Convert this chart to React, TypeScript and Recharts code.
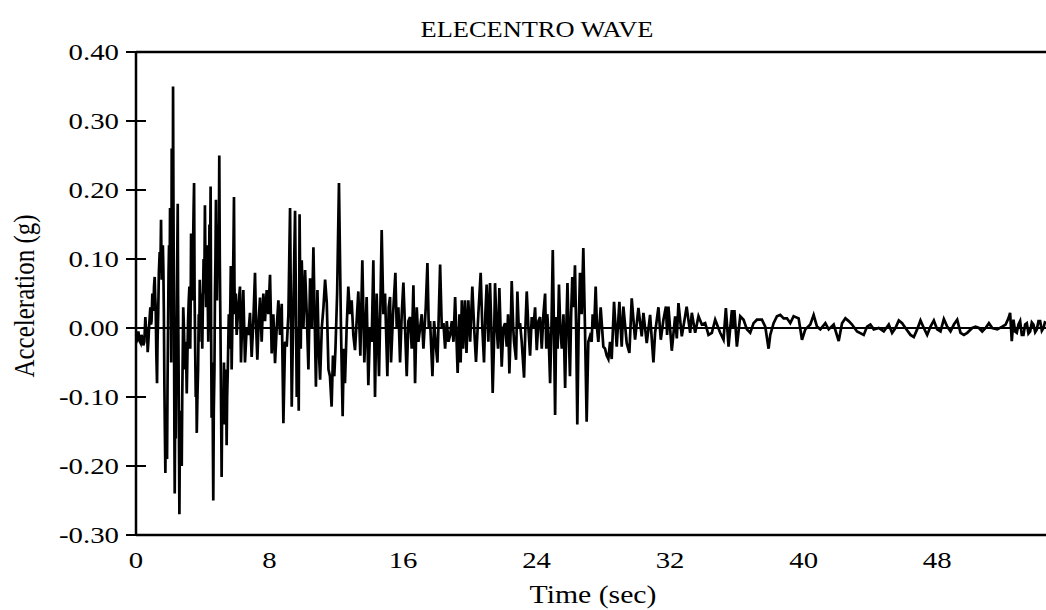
import React from 'react';
import { LineChart, Line, XAxis, YAxis, ReferenceLine } from 'recharts';

// Time (sec) / acceleration (g) pairs, split by segment
const motion0to6: [number, number][] = [
  [0.0, -0.01], [0.08, -0.015], [0.14, -0.005], [0.18, -0.012], [0.24, -0.02], [0.28, -0.022],
  [0.33, -0.01], [0.38, -0.015], [0.44, -0.025], [0.5, -0.02], [0.56, 0.016], [0.62, -0.01],
  [0.66, 0.0], [0.7, -0.035], [0.74, -0.02], [0.78, 0.0], [0.82, 0.015], [0.86, 0.03],
  [0.9, 0.005], [0.93, 0.01], [0.98, 0.05], [1.01, 0.03], [1.04, 0.025], [1.08, 0.06],
  [1.12, 0.074], [1.15, 0.045], [1.18, 0.03], [1.22, -0.04], [1.26, -0.08], [1.29, -0.02],
  [1.33, 0.02], [1.37, 0.08], [1.42, 0.11], [1.46, 0.08], [1.5, 0.157], [1.54, 0.07],
  [1.58, 0.09], [1.61, 0.12], [1.64, 0.084], [1.67, 0.02], [1.7, -0.08], [1.73, -0.15],
  [1.76, -0.21], [1.79, -0.12], [1.82, -0.17], [1.86, -0.19], [1.89, -0.08], [1.92, 0.0],
  [1.95, 0.08], [1.98, 0.12], [2.01, 0.05], [2.04, 0.174], [2.07, 0.1], [2.09, 0.06],
  [2.11, -0.05], [2.14, 0.26], [2.16, 0.1], [2.18, 0.15], [2.2, 0.08], [2.22, 0.35],
  [2.24, 0.2], [2.27, 0.05], [2.3, -0.15], [2.32, -0.24], [2.35, -0.1], [2.38, -0.16],
  [2.41, -0.05], [2.44, 0.02], [2.47, 0.1], [2.5, 0.18], [2.52, 0.05], [2.55, -0.05],
  [2.58, -0.18], [2.6, -0.27], [2.63, -0.15], [2.66, -0.12], [2.7, -0.18], [2.74, -0.2],
  [2.77, -0.1], [2.8, -0.04], [2.83, 0.03], [2.86, 0.01], [2.9, -0.03], [2.94, -0.06],
  [2.99, -0.02], [3.04, -0.095], [3.08, -0.04], [3.12, 0.01], [3.16, 0.04], [3.2, 0.06],
  [3.22, 0.01], [3.25, -0.03], [3.28, 0.05], [3.3, 0.137], [3.34, 0.08], [3.38, 0.04],
  [3.42, 0.12], [3.45, 0.17], [3.48, 0.21], [3.51, 0.05], [3.55, -0.04], [3.58, -0.1],
  [3.61, -0.06], [3.64, -0.152], [3.68, -0.1], [3.72, -0.06], [3.76, 0.02], [3.79, -0.02],
  [3.82, 0.07], [3.86, 0.03], [3.9, 0.01], [3.94, 0.05], [3.97, -0.03], [4.01, 0.04],
  [4.05, 0.1], [4.09, 0.05], [4.13, 0.178], [4.16, 0.09], [4.2, 0.03], [4.23, 0.08],
  [4.27, 0.12], [4.3, 0.04], [4.33, -0.02], [4.37, 0.06], [4.4, 0.15], [4.44, 0.1],
  [4.47, 0.205], [4.5, 0.0], [4.53, -0.13], [4.56, -0.08], [4.58, -0.05], [4.61, -0.18],
  [4.63, -0.25], [4.66, -0.12], [4.7, -0.06], [4.73, 0.05], [4.76, 0.1], [4.79, 0.186],
  [4.82, 0.08], [4.85, 0.04], [4.88, 0.1], [4.92, 0.15], [4.95, 0.08], [4.99, 0.25],
  [5.02, 0.1], [5.06, 0.0], [5.1, -0.12], [5.13, -0.216], [5.16, -0.12], [5.2, -0.09],
  [5.23, -0.14], [5.27, -0.05], [5.3, -0.1], [5.33, -0.14], [5.36, -0.06], [5.38, -0.08],
  [5.41, -0.12], [5.43, -0.17], [5.46, -0.1], [5.5, -0.06], [5.53, -0.02], [5.56, 0.02],
  [5.6, -0.03], [5.63, 0.0], [5.66, 0.05], [5.68, 0.09], [5.71, 0.0], [5.73, -0.06],
  [5.77, 0.0], [5.8, 0.05], [5.84, 0.12], [5.87, 0.19], [5.9, 0.06], [5.93, 0.02],
  [5.98, 0.05],
];

const motion6to12: [number, number][] = [
  [6.03, -0.01], [6.13, 0.03], [6.23, 0.06], [6.29, -0.05], [6.36, 0.01], [6.43, 0.055],
  [6.53, -0.05], [6.63, 0.0], [6.73, -0.01], [6.83, 0.022], [6.93, -0.042], [7.03, 0.01],
  [7.13, 0.08], [7.2, 0.0], [7.27, -0.046], [7.35, 0.01], [7.43, 0.044], [7.53, -0.02],
  [7.63, 0.05], [7.73, 0.01], [7.83, 0.055], [7.93, 0.02], [8.03, 0.077], [8.13, -0.037],
  [8.23, 0.02], [8.33, -0.051], [8.43, 0.0], [8.53, 0.04], [8.63, -0.01], [8.73, 0.035],
  [8.83, -0.138], [8.93, -0.02], [9.03, -0.027], [9.13, 0.02], [9.23, 0.174], [9.33, -0.114],
  [9.43, 0.03], [9.53, 0.17], [9.63, -0.1], [9.7, 0.0], [9.75, -0.12], [9.8, 0.165],
  [9.87, -0.03], [9.93, 0.098], [10.03, 0.0], [10.13, 0.084], [10.23, 0.02], [10.33, -0.06],
  [10.43, 0.072], [10.53, 0.0], [10.63, 0.117], [10.7, 0.02], [10.78, -0.085], [10.87, 0.055],
  [10.95, -0.03], [11.03, -0.075], [11.13, 0.0], [11.23, 0.03], [11.33, 0.07], [11.43, 0.036],
  [11.53, -0.06], [11.62, -0.07], [11.72, -0.114], [11.8, -0.04], [11.88, -0.07], [11.95, -0.03],
];

const motion12to19: [number, number][] = [
  [12.05, 0.05], [12.16, 0.21], [12.28, 0.0], [12.38, -0.128], [12.45, -0.03], [12.52, -0.08],
  [12.62, 0.0], [12.72, 0.06], [12.82, 0.02], [12.92, 0.04], [13.02, -0.01], [13.12, -0.032],
  [13.22, 0.01], [13.32, 0.053], [13.44, -0.04], [13.56, 0.098], [13.68, -0.05], [13.82, 0.045],
  [13.92, -0.083], [14.02, 0.0], [14.12, -0.02], [14.22, 0.098], [14.32, -0.1], [14.42, 0.05],
  [14.56, -0.07], [14.64, 0.03], [14.72, 0.142], [14.82, 0.02], [14.92, 0.05], [15.06, -0.07],
  [15.14, 0.03], [15.22, 0.045], [15.28, -0.05], [15.4, 0.02], [15.54, 0.08], [15.62, 0.0],
  [15.72, 0.03], [15.82, -0.05], [15.92, 0.02], [16.02, 0.066], [16.12, 0.0], [16.22, -0.07],
  [16.32, 0.01], [16.42, 0.016], [16.52, -0.03], [16.62, 0.062], [16.72, -0.08], [16.82, 0.03],
  [16.92, -0.02], [17.02, 0.0], [17.12, 0.02], [17.22, -0.03], [17.36, 0.03], [17.46, 0.094],
  [17.54, 0.0], [17.62, 0.01], [17.76, -0.07], [17.86, 0.01], [17.98, -0.03], [18.06, -0.05],
  [18.14, 0.02], [18.22, 0.092], [18.32, 0.0], [18.42, 0.007], [18.52, -0.03], [18.62, 0.01],
  [18.72, -0.02], [18.82, -0.01], [18.92, 0.01], [19.02, -0.02], [19.12, 0.045], [19.27, -0.065],
  [19.38, 0.02],
];

const motion19to27: [number, number][] = [
  [19.45, -0.05], [19.52, 0.04], [19.6, -0.03], [19.71, 0.04], [19.8, -0.036], [19.91, 0.04],
  [20.02, -0.02], [20.15, 0.06], [20.26, 0.0], [20.37, -0.049], [20.51, 0.02], [20.65, 0.08],
  [20.75, 0.0], [20.85, -0.05], [20.93, 0.02], [21.01, 0.063], [21.11, -0.02], [21.21, 0.065],
  [21.29, 0.0], [21.37, -0.094], [21.45, -0.02], [21.51, 0.065], [21.61, 0.0], [21.69, -0.03],
  [21.77, 0.058], [21.91, -0.056], [22.01, 0.0], [22.11, 0.007], [22.21, -0.027], [22.29, 0.02],
  [22.37, -0.066], [22.45, 0.0], [22.51, 0.068], [22.6, 0.0], [22.65, -0.02], [22.77, -0.046],
  [22.85, 0.053], [22.93, 0.0], [23.01, 0.007], [23.11, -0.02], [23.25, -0.072], [23.33, 0.0],
  [23.41, 0.053], [23.51, 0.0], [23.61, -0.04], [23.71, 0.016], [23.81, 0.0], [23.91, 0.03],
  [24.01, -0.032], [24.11, 0.01], [24.21, 0.016], [24.31, -0.03], [24.41, 0.02], [24.51, 0.05],
  [24.58, -0.03], [24.64, 0.02], [24.72, -0.01], [24.81, -0.08], [24.89, 0.0], [24.97, 0.113],
  [25.04, 0.0], [25.11, -0.126], [25.18, 0.016], [25.26, -0.03], [25.34, 0.063], [25.42, 0.0],
  [25.51, -0.03], [25.61, 0.02], [25.71, -0.087], [25.78, 0.0], [25.85, 0.065], [25.92, 0.0],
  [26.0, -0.07], [26.07, 0.02], [26.14, 0.074], [26.22, 0.03], [26.3, 0.091], [26.37, 0.0],
  [26.44, -0.14], [26.52, 0.0], [26.6, 0.08], [26.7, 0.02], [26.8, 0.116], [26.9, 0.0],
  [27.0, -0.136], [27.1, -0.02],
];

const motion27to40: [number, number][] = [
  [27.2, -0.012], [27.3, -0.02], [27.36, 0.02], [27.45, 0.0], [27.54, 0.06], [27.62, 0.0],
  [27.7, -0.02], [27.84, 0.03], [28.0, -0.027], [28.1, -0.03], [28.2, -0.04], [28.3, -0.045],
  [28.4, -0.02], [28.5, -0.045], [28.64, 0.038], [28.8, -0.027], [28.96, 0.038], [29.1, -0.027],
  [29.2, 0.031], [29.4, -0.022], [29.56, -0.036], [29.7, 0.043], [29.9, -0.017], [30.1, 0.029],
  [30.3, -0.012], [30.4, 0.022], [30.6, -0.022], [30.8, 0.019], [31.0, -0.05], [31.1, -0.007],
  [31.3, 0.03], [31.44, -0.017], [31.6, 0.012], [31.75, 0.031], [31.82, -0.01], [31.9, 0.031],
  [32.1, -0.033], [32.3, 0.017], [32.4, -0.015], [32.5, 0.036], [32.7, -0.012], [32.85, 0.01],
  [32.99, 0.031], [33.2, -0.007], [33.3, 0.022], [33.5, -0.007], [33.7, 0.017], [33.9, 0.005],
  [34.1, 0.007], [34.3, -0.01], [34.5, -0.007], [34.7, 0.012], [35.0, -0.007], [35.2, -0.017],
  [35.34, 0.029], [35.5, -0.027], [35.7, 0.026], [35.78, 0.0], [35.85, 0.026], [36.0, -0.027],
  [36.2, 0.017], [36.4, 0.012], [36.6, -0.002], [36.8, -0.007], [37.0, 0.007], [37.2, 0.012],
  [37.5, 0.012], [37.7, 0.002], [37.9, -0.03], [38.0, -0.01], [38.2, 0.007], [38.4, 0.017],
  [38.6, 0.019], [38.8, 0.014], [39.0, 0.014], [39.2, 0.007], [39.4, 0.017], [39.7, 0.014],
  [39.9, -0.017],
];

const motion40to55: [number, number][] = [
  [40.1, -0.002], [40.4, 0.005], [40.6, 0.019], [40.8, 0.002], [41.0, -0.002], [41.3, 0.007],
  [41.5, -0.002], [41.8, 0.005], [42.1, -0.019], [42.3, 0.007], [42.5, 0.014], [42.7, 0.01],
  [42.9, 0.005], [43.2, -0.005], [43.6, -0.01], [43.8, 0.002], [44.0, 0.005], [44.2, -0.002],
  [44.5, 0.0], [44.8, -0.005], [45.1, 0.005], [45.3, -0.007], [45.5, 0.0], [45.7, 0.011],
  [45.9, 0.007], [46.1, 0.0], [46.4, -0.01], [46.6, -0.013], [46.8, -0.002], [47.0, 0.011],
  [47.2, 0.0], [47.4, -0.01], [47.6, 0.002], [47.8, 0.011], [48.0, -0.002], [48.2, -0.005],
  [48.4, 0.013], [48.6, 0.002], [48.8, -0.005], [49.0, 0.005], [49.2, 0.012], [49.4, -0.007],
  [49.6, -0.01], [49.8, -0.007], [50.1, 0.0], [50.3, 0.002], [50.5, 0.0], [50.7, -0.005],
  [50.9, 0.0], [51.1, 0.007], [51.3, 0.0], [51.6, -0.002], [51.9, 0.002], [52.1, 0.005],
  [52.27, 0.014], [52.37, 0.022], [52.47, -0.019], [52.57, 0.012], [52.67, -0.005], [52.77, -0.007],
  [52.87, 0.005], [52.97, 0.01], [53.07, -0.01], [53.17, -0.01], [53.27, 0.005], [53.37, 0.007],
  [53.47, -0.008], [53.57, -0.005], [53.67, 0.008], [53.77, 0.005], [53.87, -0.006], [53.97, -0.002],
  [54.07, 0.01], [54.17, 0.01], [54.27, -0.004], [54.37, 0.0], [54.45, 0.008], [54.52, 0.007],
];

const xTicks = [0, 8, 16, 24, 32, 40, 48];
const yTicks = [-0.3, -0.2, -0.1, 0, 0.1, 0.2, 0.3, 0.4];
const titleText = 'ELECENTRO WAVE';
const xLabelText = 'Time (sec)';
const yLabelText = 'Acceleration (g)';

const data = [
  ...motion0to6,
  ...motion6to12,
  ...motion12to19,
  ...motion19to27,
  ...motion27to40,
  ...motion40to55,
].map(([t, a]) => ({ t, a }));

const FONT = '"Liberation Serif", "Times New Roman", Times, serif';
const SX = 1.2;

const YTick = (props: any) => {
  const { x, y, payload } = props;
  return (
    <g>
      <line x1={x - 10} x2={x + 10} y1={y} y2={y} stroke="#000" strokeWidth={2} />
      <text
        transform={`translate(${x - 17},${y + 8}) scale(${SX},1)`}
        textAnchor="end"
        fontFamily={FONT}
        fontSize={24}
        fill="#000"
      >
        {Number(payload.value).toFixed(2)}
      </text>
    </g>
  );
};

const XTick = (props: any) => {
  const { x, y, payload } = props;
  return (
    <text
      transform={`translate(${x},${y + 33}) scale(${SX},1)`}
      textAnchor="middle"
      fontFamily={FONT}
      fontSize={24}
      fill="#000"
    >
      {String(payload.value)}
    </text>
  );
};

export default function App() {
  return (
    <div style={{ position: 'absolute', left: 0, top: 0, width: 1046, height: 610, background: '#fff' }}>
      <LineChart width={1046} height={610} data={data} margin={{ top: 52, right: 0, bottom: 45, left: 76 }}>
        <XAxis
          type="number"
          dataKey="t"
          domain={[0, 54.52]}
          ticks={xTicks}
          interval={0}
          height={30}
          tickLine={false}
          tickSize={0}
          tickMargin={0}
          axisLine={{ stroke: '#000', strokeWidth: 2.5 }}
          tick={(p: any) => <XTick {...p} />}
        />
        <YAxis
          type="number"
          domain={[-0.3, 0.4]}
          ticks={yTicks}
          interval={0}
          width={60}
          tickLine={false}
          tickSize={0}
          tickMargin={0}
          axisLine={{ stroke: '#000', strokeWidth: 2.5 }}
          tick={(p: any) => <YTick {...p} />}
        />
        <ReferenceLine y={0.4} stroke="#000" strokeWidth={2.5} />
        <ReferenceLine y={0} stroke="#000" strokeWidth={2} />
        <Line
          type="linear"
          dataKey="a"
          stroke="#000"
          strokeWidth={2.7}
          dot={false}
          isAnimationActive={false}
        />
      </LineChart>
      <svg
        width={1046}
        height={610}
        style={{ position: 'absolute', left: 0, top: 0, pointerEvents: 'none' }}
      >
        <text
          transform={`translate(537,37) scale(1.1,1)`}
          textAnchor="middle"
          fontFamily={FONT}
          fontSize={24}
          fill="#000"
        >
          {titleText}
        </text>
        <text
          transform={`translate(593,603) scale(1.19,1)`}
          textAnchor="middle"
          fontFamily={FONT}
          fontSize={25}
          fill="#000"
        >
          {xLabelText}
        </text>
        <text
          transform={`translate(34,296) scale(1.15,1) rotate(-90)`}
          textAnchor="middle"
          fontFamily={FONT}
          fontSize={25}
          fill="#000"
        >
          {yLabelText}
        </text>
      </svg>
    </div>
  );
}
